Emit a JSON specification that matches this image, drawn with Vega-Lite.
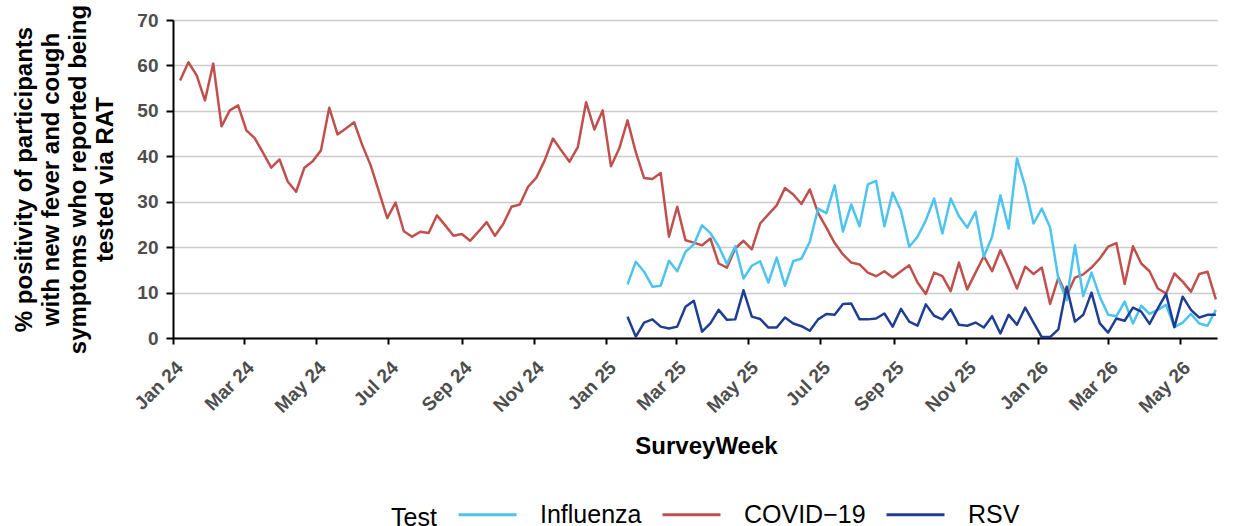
{
  "$schema": "https://vega.github.io/schema/vega-lite/v6.json",
  "width": 1044,
  "height": 318,
  "autosize": {"type": "none"},
  "padding": {"left": 173, "top": 20, "right": 22, "bottom": 188},
  "background": "white",
  "config": {
    "font": "Liberation Sans",
    "view": {"stroke": null},
    "axis": {
      "domainColor": "#000000",
      "domainWidth": 2,
      "tickColor": "#000000",
      "tickWidth": 2,
      "labelColor": "#4D4D4D",
      "labelFontWeight": "bold",
      "titleColor": "#000000",
      "titleFontWeight": "bold"
    }
  },
  "data": {
    "values": [
      {"SurveyWeek": "2024-01-07", "Test": "COVID−19", "Positivity": 56.7},
      {"SurveyWeek": "2024-01-14", "Test": "COVID−19", "Positivity": 60.7},
      {"SurveyWeek": "2024-01-21", "Test": "COVID−19", "Positivity": 57.8},
      {"SurveyWeek": "2024-01-28", "Test": "COVID−19", "Positivity": 52.3},
      {"SurveyWeek": "2024-02-04", "Test": "COVID−19", "Positivity": 60.4},
      {"SurveyWeek": "2024-02-11", "Test": "COVID−19", "Positivity": 46.6},
      {"SurveyWeek": "2024-02-18", "Test": "COVID−19", "Positivity": 50.1},
      {"SurveyWeek": "2024-02-25", "Test": "COVID−19", "Positivity": 51.2},
      {"SurveyWeek": "2024-03-03", "Test": "COVID−19", "Positivity": 45.7},
      {"SurveyWeek": "2024-03-10", "Test": "COVID−19", "Positivity": 44.0},
      {"SurveyWeek": "2024-03-17", "Test": "COVID−19", "Positivity": 40.8},
      {"SurveyWeek": "2024-03-24", "Test": "COVID−19", "Positivity": 37.5},
      {"SurveyWeek": "2024-03-31", "Test": "COVID−19", "Positivity": 39.3},
      {"SurveyWeek": "2024-04-07", "Test": "COVID−19", "Positivity": 34.4},
      {"SurveyWeek": "2024-04-14", "Test": "COVID−19", "Positivity": 32.2},
      {"SurveyWeek": "2024-04-21", "Test": "COVID−19", "Positivity": 37.5},
      {"SurveyWeek": "2024-04-28", "Test": "COVID−19", "Positivity": 38.9},
      {"SurveyWeek": "2024-05-05", "Test": "COVID−19", "Positivity": 41.3},
      {"SurveyWeek": "2024-05-12", "Test": "COVID−19", "Positivity": 50.7},
      {"SurveyWeek": "2024-05-19", "Test": "COVID−19", "Positivity": 44.8},
      {"SurveyWeek": "2024-05-26", "Test": "COVID−19", "Positivity": 46.1},
      {"SurveyWeek": "2024-06-02", "Test": "COVID−19", "Positivity": 47.5},
      {"SurveyWeek": "2024-06-09", "Test": "COVID−19", "Positivity": 42.4},
      {"SurveyWeek": "2024-06-16", "Test": "COVID−19", "Positivity": 38.0},
      {"SurveyWeek": "2024-06-23", "Test": "COVID−19", "Positivity": 32.2},
      {"SurveyWeek": "2024-06-30", "Test": "COVID−19", "Positivity": 26.4},
      {"SurveyWeek": "2024-07-07", "Test": "COVID−19", "Positivity": 29.8},
      {"SurveyWeek": "2024-07-14", "Test": "COVID−19", "Positivity": 23.5},
      {"SurveyWeek": "2024-07-21", "Test": "COVID−19", "Positivity": 22.3},
      {"SurveyWeek": "2024-07-28", "Test": "COVID−19", "Positivity": 23.4},
      {"SurveyWeek": "2024-08-04", "Test": "COVID−19", "Positivity": 23.1},
      {"SurveyWeek": "2024-08-11", "Test": "COVID−19", "Positivity": 27.0},
      {"SurveyWeek": "2024-08-18", "Test": "COVID−19", "Positivity": 24.8},
      {"SurveyWeek": "2024-08-25", "Test": "COVID−19", "Positivity": 22.5},
      {"SurveyWeek": "2024-09-01", "Test": "COVID−19", "Positivity": 22.9},
      {"SurveyWeek": "2024-09-08", "Test": "COVID−19", "Positivity": 21.4},
      {"SurveyWeek": "2024-09-15", "Test": "COVID−19", "Positivity": 23.4},
      {"SurveyWeek": "2024-09-22", "Test": "COVID−19", "Positivity": 25.5},
      {"SurveyWeek": "2024-09-29", "Test": "COVID−19", "Positivity": 22.5},
      {"SurveyWeek": "2024-10-06", "Test": "COVID−19", "Positivity": 25.1},
      {"SurveyWeek": "2024-10-13", "Test": "COVID−19", "Positivity": 28.9},
      {"SurveyWeek": "2024-10-20", "Test": "COVID−19", "Positivity": 29.4},
      {"SurveyWeek": "2024-10-27", "Test": "COVID−19", "Positivity": 33.3},
      {"SurveyWeek": "2024-11-03", "Test": "COVID−19", "Positivity": 35.3},
      {"SurveyWeek": "2024-11-10", "Test": "COVID−19", "Positivity": 39.1},
      {"SurveyWeek": "2024-11-17", "Test": "COVID−19", "Positivity": 43.9},
      {"SurveyWeek": "2024-11-24", "Test": "COVID−19", "Positivity": 41.3},
      {"SurveyWeek": "2024-12-01", "Test": "COVID−19", "Positivity": 38.8},
      {"SurveyWeek": "2024-12-08", "Test": "COVID−19", "Positivity": 42.0},
      {"SurveyWeek": "2024-12-15", "Test": "COVID−19", "Positivity": 51.9},
      {"SurveyWeek": "2024-12-22", "Test": "COVID−19", "Positivity": 45.9},
      {"SurveyWeek": "2024-12-29", "Test": "COVID−19", "Positivity": 50.1},
      {"SurveyWeek": "2025-01-05", "Test": "COVID−19", "Positivity": 37.8},
      {"SurveyWeek": "2025-01-12", "Test": "COVID−19", "Positivity": 41.7},
      {"SurveyWeek": "2025-01-19", "Test": "COVID−19", "Positivity": 47.9},
      {"SurveyWeek": "2025-01-26", "Test": "COVID−19", "Positivity": 40.9},
      {"SurveyWeek": "2025-02-02", "Test": "COVID−19", "Positivity": 35.2},
      {"SurveyWeek": "2025-02-09", "Test": "COVID−19", "Positivity": 35.0},
      {"SurveyWeek": "2025-02-16", "Test": "COVID−19", "Positivity": 36.3},
      {"SurveyWeek": "2025-02-23", "Test": "COVID−19", "Positivity": 22.3},
      {"SurveyWeek": "2025-03-02", "Test": "COVID−19", "Positivity": 28.9},
      {"SurveyWeek": "2025-03-09", "Test": "COVID−19", "Positivity": 21.5},
      {"SurveyWeek": "2025-03-16", "Test": "COVID−19", "Positivity": 21.0},
      {"SurveyWeek": "2025-03-23", "Test": "COVID−19", "Positivity": 20.4},
      {"SurveyWeek": "2025-03-30", "Test": "COVID−19", "Positivity": 21.9},
      {"SurveyWeek": "2025-04-06", "Test": "COVID−19", "Positivity": 16.4},
      {"SurveyWeek": "2025-04-13", "Test": "COVID−19", "Positivity": 15.5},
      {"SurveyWeek": "2025-04-20", "Test": "COVID−19", "Positivity": 19.7},
      {"SurveyWeek": "2025-04-27", "Test": "COVID−19", "Positivity": 21.4},
      {"SurveyWeek": "2025-05-04", "Test": "COVID−19", "Positivity": 19.5},
      {"SurveyWeek": "2025-05-11", "Test": "COVID−19", "Positivity": 25.2},
      {"SurveyWeek": "2025-05-18", "Test": "COVID−19", "Positivity": 27.2},
      {"SurveyWeek": "2025-05-25", "Test": "COVID−19", "Positivity": 29.2},
      {"SurveyWeek": "2025-06-01", "Test": "COVID−19", "Positivity": 33.0},
      {"SurveyWeek": "2025-06-08", "Test": "COVID−19", "Positivity": 31.6},
      {"SurveyWeek": "2025-06-15", "Test": "COVID−19", "Positivity": 29.5},
      {"SurveyWeek": "2025-06-22", "Test": "COVID−19", "Positivity": 32.7},
      {"SurveyWeek": "2025-06-29", "Test": "COVID−19", "Positivity": 27.5},
      {"SurveyWeek": "2025-07-06", "Test": "COVID−19", "Positivity": 24.3},
      {"SurveyWeek": "2025-07-13", "Test": "COVID−19", "Positivity": 20.9},
      {"SurveyWeek": "2025-07-20", "Test": "COVID−19", "Positivity": 18.4},
      {"SurveyWeek": "2025-07-27", "Test": "COVID−19", "Positivity": 16.6},
      {"SurveyWeek": "2025-08-03", "Test": "COVID−19", "Positivity": 16.2},
      {"SurveyWeek": "2025-08-10", "Test": "COVID−19", "Positivity": 14.4},
      {"SurveyWeek": "2025-08-17", "Test": "COVID−19", "Positivity": 13.6},
      {"SurveyWeek": "2025-08-24", "Test": "COVID−19", "Positivity": 14.7},
      {"SurveyWeek": "2025-08-31", "Test": "COVID−19", "Positivity": 13.3},
      {"SurveyWeek": "2025-09-07", "Test": "COVID−19", "Positivity": 14.7},
      {"SurveyWeek": "2025-09-14", "Test": "COVID−19", "Positivity": 16.0},
      {"SurveyWeek": "2025-09-21", "Test": "COVID−19", "Positivity": 12.2},
      {"SurveyWeek": "2025-09-28", "Test": "COVID−19", "Positivity": 9.7},
      {"SurveyWeek": "2025-10-05", "Test": "COVID−19", "Positivity": 14.4},
      {"SurveyWeek": "2025-10-12", "Test": "COVID−19", "Positivity": 13.6},
      {"SurveyWeek": "2025-10-19", "Test": "COVID−19", "Positivity": 10.3},
      {"SurveyWeek": "2025-10-26", "Test": "COVID−19", "Positivity": 16.6},
      {"SurveyWeek": "2025-11-02", "Test": "COVID−19", "Positivity": 10.7},
      {"SurveyWeek": "2025-11-09", "Test": "COVID−19", "Positivity": 14.4},
      {"SurveyWeek": "2025-11-16", "Test": "COVID−19", "Positivity": 18.0},
      {"SurveyWeek": "2025-11-23", "Test": "COVID−19", "Positivity": 14.7},
      {"SurveyWeek": "2025-11-30", "Test": "COVID−19", "Positivity": 19.3},
      {"SurveyWeek": "2025-12-07", "Test": "COVID−19", "Positivity": 15.3},
      {"SurveyWeek": "2025-12-14", "Test": "COVID−19", "Positivity": 10.9},
      {"SurveyWeek": "2025-12-21", "Test": "COVID−19", "Positivity": 15.7},
      {"SurveyWeek": "2025-12-28", "Test": "COVID−19", "Positivity": 14.1},
      {"SurveyWeek": "2026-01-04", "Test": "COVID−19", "Positivity": 15.5},
      {"SurveyWeek": "2026-01-11", "Test": "COVID−19", "Positivity": 7.5},
      {"SurveyWeek": "2026-01-18", "Test": "COVID−19", "Positivity": 13.3},
      {"SurveyWeek": "2026-01-25", "Test": "COVID−19", "Positivity": 9.3},
      {"SurveyWeek": "2026-02-01", "Test": "COVID−19", "Positivity": 13.3},
      {"SurveyWeek": "2026-02-08", "Test": "COVID−19", "Positivity": 14.0},
      {"SurveyWeek": "2026-02-15", "Test": "COVID−19", "Positivity": 15.5},
      {"SurveyWeek": "2026-02-22", "Test": "COVID−19", "Positivity": 17.5},
      {"SurveyWeek": "2026-03-01", "Test": "COVID−19", "Positivity": 20.1},
      {"SurveyWeek": "2026-03-08", "Test": "COVID−19", "Positivity": 20.9},
      {"SurveyWeek": "2026-03-15", "Test": "COVID−19", "Positivity": 11.9},
      {"SurveyWeek": "2026-03-22", "Test": "COVID−19", "Positivity": 20.2},
      {"SurveyWeek": "2026-03-29", "Test": "COVID−19", "Positivity": 16.4},
      {"SurveyWeek": "2026-04-05", "Test": "COVID−19", "Positivity": 14.7},
      {"SurveyWeek": "2026-04-12", "Test": "COVID−19", "Positivity": 10.9},
      {"SurveyWeek": "2026-04-19", "Test": "COVID−19", "Positivity": 9.8},
      {"SurveyWeek": "2026-04-26", "Test": "COVID−19", "Positivity": 14.2},
      {"SurveyWeek": "2026-05-03", "Test": "COVID−19", "Positivity": 12.4},
      {"SurveyWeek": "2026-05-10", "Test": "COVID−19", "Positivity": 10.2},
      {"SurveyWeek": "2026-05-17", "Test": "COVID−19", "Positivity": 14.1},
      {"SurveyWeek": "2026-05-24", "Test": "COVID−19", "Positivity": 14.6},
      {"SurveyWeek": "2026-05-31", "Test": "COVID−19", "Positivity": 8.5},

      {"SurveyWeek": "2025-01-19", "Test": "Influenza", "Positivity": 11.8},
      {"SurveyWeek": "2025-01-26", "Test": "Influenza", "Positivity": 16.8},
      {"SurveyWeek": "2025-02-02", "Test": "Influenza", "Positivity": 14.6},
      {"SurveyWeek": "2025-02-09", "Test": "Influenza", "Positivity": 11.3},
      {"SurveyWeek": "2025-02-16", "Test": "Influenza", "Positivity": 11.5},
      {"SurveyWeek": "2025-02-23", "Test": "Influenza", "Positivity": 17.0},
      {"SurveyWeek": "2025-03-02", "Test": "Influenza", "Positivity": 14.7},
      {"SurveyWeek": "2025-03-09", "Test": "Influenza", "Positivity": 19.0},
      {"SurveyWeek": "2025-03-16", "Test": "Influenza", "Positivity": 20.6},
      {"SurveyWeek": "2025-03-23", "Test": "Influenza", "Positivity": 24.8},
      {"SurveyWeek": "2025-03-30", "Test": "Influenza", "Positivity": 23.1},
      {"SurveyWeek": "2025-04-06", "Test": "Influenza", "Positivity": 20.2},
      {"SurveyWeek": "2025-04-13", "Test": "Influenza", "Positivity": 16.3},
      {"SurveyWeek": "2025-04-20", "Test": "Influenza", "Positivity": 20.2},
      {"SurveyWeek": "2025-04-27", "Test": "Influenza", "Positivity": 13.1},
      {"SurveyWeek": "2025-05-04", "Test": "Influenza", "Positivity": 15.9},
      {"SurveyWeek": "2025-05-11", "Test": "Influenza", "Positivity": 16.9},
      {"SurveyWeek": "2025-05-18", "Test": "Influenza", "Positivity": 12.2},
      {"SurveyWeek": "2025-05-25", "Test": "Influenza", "Positivity": 17.7},
      {"SurveyWeek": "2025-06-01", "Test": "Influenza", "Positivity": 11.5},
      {"SurveyWeek": "2025-06-08", "Test": "Influenza", "Positivity": 16.9},
      {"SurveyWeek": "2025-06-15", "Test": "Influenza", "Positivity": 17.5},
      {"SurveyWeek": "2025-06-22", "Test": "Influenza", "Positivity": 21.2},
      {"SurveyWeek": "2025-06-29", "Test": "Influenza", "Positivity": 28.5},
      {"SurveyWeek": "2025-07-06", "Test": "Influenza", "Positivity": 27.5},
      {"SurveyWeek": "2025-07-13", "Test": "Influenza", "Positivity": 33.6},
      {"SurveyWeek": "2025-07-20", "Test": "Influenza", "Positivity": 23.4},
      {"SurveyWeek": "2025-07-27", "Test": "Influenza", "Positivity": 29.4},
      {"SurveyWeek": "2025-08-03", "Test": "Influenza", "Positivity": 24.6},
      {"SurveyWeek": "2025-08-10", "Test": "Influenza", "Positivity": 33.8},
      {"SurveyWeek": "2025-08-17", "Test": "Influenza", "Positivity": 34.6},
      {"SurveyWeek": "2025-08-24", "Test": "Influenza", "Positivity": 24.6},
      {"SurveyWeek": "2025-08-31", "Test": "Influenza", "Positivity": 32.0},
      {"SurveyWeek": "2025-09-07", "Test": "Influenza", "Positivity": 28.0},
      {"SurveyWeek": "2025-09-14", "Test": "Influenza", "Positivity": 20.1},
      {"SurveyWeek": "2025-09-21", "Test": "Influenza", "Positivity": 22.3},
      {"SurveyWeek": "2025-09-28", "Test": "Influenza", "Positivity": 25.9},
      {"SurveyWeek": "2025-10-05", "Test": "Influenza", "Positivity": 30.7},
      {"SurveyWeek": "2025-10-12", "Test": "Influenza", "Positivity": 23.0},
      {"SurveyWeek": "2025-10-19", "Test": "Influenza", "Positivity": 30.7},
      {"SurveyWeek": "2025-10-26", "Test": "Influenza", "Positivity": 26.8},
      {"SurveyWeek": "2025-11-02", "Test": "Influenza", "Positivity": 24.3},
      {"SurveyWeek": "2025-11-09", "Test": "Influenza", "Positivity": 27.8},
      {"SurveyWeek": "2025-11-16", "Test": "Influenza", "Positivity": 17.9},
      {"SurveyWeek": "2025-11-23", "Test": "Influenza", "Positivity": 22.3},
      {"SurveyWeek": "2025-11-30", "Test": "Influenza", "Positivity": 31.4},
      {"SurveyWeek": "2025-12-07", "Test": "Influenza", "Positivity": 24.1},
      {"SurveyWeek": "2025-12-14", "Test": "Influenza", "Positivity": 39.5},
      {"SurveyWeek": "2025-12-21", "Test": "Influenza", "Positivity": 33.3},
      {"SurveyWeek": "2025-12-28", "Test": "Influenza", "Positivity": 25.2},
      {"SurveyWeek": "2026-01-04", "Test": "Influenza", "Positivity": 28.5},
      {"SurveyWeek": "2026-01-11", "Test": "Influenza", "Positivity": 24.3},
      {"SurveyWeek": "2026-01-18", "Test": "Influenza", "Positivity": 13.0},
      {"SurveyWeek": "2026-01-25", "Test": "Influenza", "Positivity": 8.3},
      {"SurveyWeek": "2026-02-01", "Test": "Influenza", "Positivity": 20.4},
      {"SurveyWeek": "2026-02-08", "Test": "Influenza", "Positivity": 9.2},
      {"SurveyWeek": "2026-02-15", "Test": "Influenza", "Positivity": 14.4},
      {"SurveyWeek": "2026-02-22", "Test": "Influenza", "Positivity": 9.1},
      {"SurveyWeek": "2026-03-01", "Test": "Influenza", "Positivity": 5.1},
      {"SurveyWeek": "2026-03-08", "Test": "Influenza", "Positivity": 4.8},
      {"SurveyWeek": "2026-03-15", "Test": "Influenza", "Positivity": 8.0},
      {"SurveyWeek": "2026-03-22", "Test": "Influenza", "Positivity": 3.2},
      {"SurveyWeek": "2026-03-29", "Test": "Influenza", "Positivity": 7.1},
      {"SurveyWeek": "2026-04-05", "Test": "Influenza", "Positivity": 5.3},
      {"SurveyWeek": "2026-04-12", "Test": "Influenza", "Positivity": 6.2},
      {"SurveyWeek": "2026-04-19", "Test": "Influenza", "Positivity": 7.3},
      {"SurveyWeek": "2026-04-26", "Test": "Influenza", "Positivity": 2.4},
      {"SurveyWeek": "2026-05-03", "Test": "Influenza", "Positivity": 3.4},
      {"SurveyWeek": "2026-05-10", "Test": "Influenza", "Positivity": 5.3},
      {"SurveyWeek": "2026-05-17", "Test": "Influenza", "Positivity": 3.2},
      {"SurveyWeek": "2026-05-24", "Test": "Influenza", "Positivity": 2.7},
      {"SurveyWeek": "2026-05-31", "Test": "Influenza", "Positivity": 6.2},

      {"SurveyWeek": "2025-01-19", "Test": "RSV", "Positivity": 4.7},
      {"SurveyWeek": "2025-01-26", "Test": "RSV", "Positivity": 0.3},
      {"SurveyWeek": "2025-02-02", "Test": "RSV", "Positivity": 3.4},
      {"SurveyWeek": "2025-02-09", "Test": "RSV", "Positivity": 4.1},
      {"SurveyWeek": "2025-02-16", "Test": "RSV", "Positivity": 2.5},
      {"SurveyWeek": "2025-02-23", "Test": "RSV", "Positivity": 2.1},
      {"SurveyWeek": "2025-03-02", "Test": "RSV", "Positivity": 2.5},
      {"SurveyWeek": "2025-03-09", "Test": "RSV", "Positivity": 6.9},
      {"SurveyWeek": "2025-03-16", "Test": "RSV", "Positivity": 8.2},
      {"SurveyWeek": "2025-03-23", "Test": "RSV", "Positivity": 1.4},
      {"SurveyWeek": "2025-03-30", "Test": "RSV", "Positivity": 3.2},
      {"SurveyWeek": "2025-04-06", "Test": "RSV", "Positivity": 6.2},
      {"SurveyWeek": "2025-04-13", "Test": "RSV", "Positivity": 4.0},
      {"SurveyWeek": "2025-04-20", "Test": "RSV", "Positivity": 4.1},
      {"SurveyWeek": "2025-04-27", "Test": "RSV", "Positivity": 10.5},
      {"SurveyWeek": "2025-05-04", "Test": "RSV", "Positivity": 4.7},
      {"SurveyWeek": "2025-05-11", "Test": "RSV", "Positivity": 4.2},
      {"SurveyWeek": "2025-05-18", "Test": "RSV", "Positivity": 2.3},
      {"SurveyWeek": "2025-05-25", "Test": "RSV", "Positivity": 2.3},
      {"SurveyWeek": "2025-06-01", "Test": "RSV", "Positivity": 4.5},
      {"SurveyWeek": "2025-06-08", "Test": "RSV", "Positivity": 3.2},
      {"SurveyWeek": "2025-06-15", "Test": "RSV", "Positivity": 2.6},
      {"SurveyWeek": "2025-06-22", "Test": "RSV", "Positivity": 1.6},
      {"SurveyWeek": "2025-06-29", "Test": "RSV", "Positivity": 4.1},
      {"SurveyWeek": "2025-07-06", "Test": "RSV", "Positivity": 5.3},
      {"SurveyWeek": "2025-07-13", "Test": "RSV", "Positivity": 5.1},
      {"SurveyWeek": "2025-07-20", "Test": "RSV", "Positivity": 7.5},
      {"SurveyWeek": "2025-07-27", "Test": "RSV", "Positivity": 7.6},
      {"SurveyWeek": "2025-08-03", "Test": "RSV", "Positivity": 4.1},
      {"SurveyWeek": "2025-08-10", "Test": "RSV", "Positivity": 4.1},
      {"SurveyWeek": "2025-08-17", "Test": "RSV", "Positivity": 4.3},
      {"SurveyWeek": "2025-08-24", "Test": "RSV", "Positivity": 5.4},
      {"SurveyWeek": "2025-08-31", "Test": "RSV", "Positivity": 2.5},
      {"SurveyWeek": "2025-09-07", "Test": "RSV", "Positivity": 6.4},
      {"SurveyWeek": "2025-09-14", "Test": "RSV", "Positivity": 3.6},
      {"SurveyWeek": "2025-09-21", "Test": "RSV", "Positivity": 2.7},
      {"SurveyWeek": "2025-09-28", "Test": "RSV", "Positivity": 7.4},
      {"SurveyWeek": "2025-10-05", "Test": "RSV", "Positivity": 4.9},
      {"SurveyWeek": "2025-10-12", "Test": "RSV", "Positivity": 4.1},
      {"SurveyWeek": "2025-10-19", "Test": "RSV", "Positivity": 6.3},
      {"SurveyWeek": "2025-10-26", "Test": "RSV", "Positivity": 2.9},
      {"SurveyWeek": "2025-11-02", "Test": "RSV", "Positivity": 2.7},
      {"SurveyWeek": "2025-11-09", "Test": "RSV", "Positivity": 3.4},
      {"SurveyWeek": "2025-11-16", "Test": "RSV", "Positivity": 2.3},
      {"SurveyWeek": "2025-11-23", "Test": "RSV", "Positivity": 4.8},
      {"SurveyWeek": "2025-11-30", "Test": "RSV", "Positivity": 1.0},
      {"SurveyWeek": "2025-12-07", "Test": "RSV", "Positivity": 5.1},
      {"SurveyWeek": "2025-12-14", "Test": "RSV", "Positivity": 2.9},
      {"SurveyWeek": "2025-12-21", "Test": "RSV", "Positivity": 6.7},
      {"SurveyWeek": "2025-12-28", "Test": "RSV", "Positivity": 3.4},
      {"SurveyWeek": "2026-01-04", "Test": "RSV", "Positivity": 0.2},
      {"SurveyWeek": "2026-01-11", "Test": "RSV", "Positivity": 0.2},
      {"SurveyWeek": "2026-01-18", "Test": "RSV", "Positivity": 1.9},
      {"SurveyWeek": "2026-01-25", "Test": "RSV", "Positivity": 11.3},
      {"SurveyWeek": "2026-02-01", "Test": "RSV", "Positivity": 3.6},
      {"SurveyWeek": "2026-02-08", "Test": "RSV", "Positivity": 5.1},
      {"SurveyWeek": "2026-02-15", "Test": "RSV", "Positivity": 10.0},
      {"SurveyWeek": "2026-02-22", "Test": "RSV", "Positivity": 3.2},
      {"SurveyWeek": "2026-03-01", "Test": "RSV", "Positivity": 1.2},
      {"SurveyWeek": "2026-03-08", "Test": "RSV", "Positivity": 4.3},
      {"SurveyWeek": "2026-03-15", "Test": "RSV", "Positivity": 3.8},
      {"SurveyWeek": "2026-03-22", "Test": "RSV", "Positivity": 6.7},
      {"SurveyWeek": "2026-03-29", "Test": "RSV", "Positivity": 5.8},
      {"SurveyWeek": "2026-04-05", "Test": "RSV", "Positivity": 3.1},
      {"SurveyWeek": "2026-04-12", "Test": "RSV", "Positivity": 6.5},
      {"SurveyWeek": "2026-04-19", "Test": "RSV", "Positivity": 9.7},
      {"SurveyWeek": "2026-04-26", "Test": "RSV", "Positivity": 2.4},
      {"SurveyWeek": "2026-05-03", "Test": "RSV", "Positivity": 9.1},
      {"SurveyWeek": "2026-05-10", "Test": "RSV", "Positivity": 6.2},
      {"SurveyWeek": "2026-05-17", "Test": "RSV", "Positivity": 4.5},
      {"SurveyWeek": "2026-05-24", "Test": "RSV", "Positivity": 5.1},
      {"SurveyWeek": "2026-05-31", "Test": "RSV", "Positivity": 5.1}
    ]
  },
  "mark": {"type": "line", "strokeWidth": 2.5, "strokeJoin": "round"},
  "encoding": {
    "x": {
      "field": "SurveyWeek",
      "type": "temporal",
      "scale": {
        "type": "utc",
        "domain": [
          {"year": 2024, "month": 1, "date": 1, "utc": true},
          {"year": 2026, "month": 6, "date": 1, "utc": true}
        ]
      },
      "axis": {
        "title": "SurveyWeek",
        "titleFontSize": 24,
        "titlePadding": 18,
        "titleX": 533,
        "format": "%b %y",
        "labelAngle": -45,
        "labelAlign": "right",
        "labelBaseline": "top",
        "labelFontSize": 19,
        "labelPadding": 14,
        "tickSize": 6,
        "grid": false,
        "labelOverlap": false,
        "values": [
          {"year": 2024, "month": 1, "date": 1, "utc": true},
          {"year": 2024, "month": 3, "date": 1, "utc": true},
          {"year": 2024, "month": 5, "date": 1, "utc": true},
          {"year": 2024, "month": 7, "date": 1, "utc": true},
          {"year": 2024, "month": 9, "date": 1, "utc": true},
          {"year": 2024, "month": 11, "date": 1, "utc": true},
          {"year": 2025, "month": 1, "date": 1, "utc": true},
          {"year": 2025, "month": 3, "date": 1, "utc": true},
          {"year": 2025, "month": 5, "date": 1, "utc": true},
          {"year": 2025, "month": 7, "date": 1, "utc": true},
          {"year": 2025, "month": 9, "date": 1, "utc": true},
          {"year": 2025, "month": 11, "date": 1, "utc": true},
          {"year": 2026, "month": 1, "date": 1, "utc": true},
          {"year": 2026, "month": 3, "date": 1, "utc": true},
          {"year": 2026, "month": 5, "date": 1, "utc": true}
        ]
      }
    },
    "y": {
      "field": "Positivity",
      "type": "quantitative",
      "scale": {"domain": [0, 70], "nice": false, "zero": true},
      "axis": {
        "title": ["% positivity of participants", "with new fever and cough", "symptoms who reported being", "tested via RAT"],
        "titleFontSize": 24,
        "titleLineHeight": 27,
        "titlePadding": 19,
        "values": [0, 10, 20, 30, 40, 50, 60, 70],
        "labelFontSize": 19,
        "labelPadding": 8,
        "tickSize": 7,
        "grid": true,
        "gridColor": "#CCCCCC",
        "gridWidth": 1.6
      }
    },
    "color": {
      "field": "Test",
      "type": "nominal",
      "scale": {
        "domain": ["Influenza", "COVID−19", "RSV"],
        "range": ["#4DC3EF", "#C0504D", "#1F3E93"]
      },
      "legend": {
        "orient": "none",
        "legendX": 218,
        "legendY": 464,
        "direction": "horizontal",
        "title": "Test",
        "titleOrient": "left",
        "titleAnchor": "middle",
        "titleBaseline": "top",
        "titleFontSize": 25,
        "titleFontWeight": "normal",
        "titleColor": "#000000",
        "titlePadding": 20,
        "labelFontSize": 25,
        "labelColor": "#000000",
        "labelOffset": 22,
        "labelLimit": 400,
        "columnPadding": 14,
        "symbolType": "stroke",
        "symbolSize": 3364,
        "symbolStrokeWidth": 3
      }
    }
  }
}
